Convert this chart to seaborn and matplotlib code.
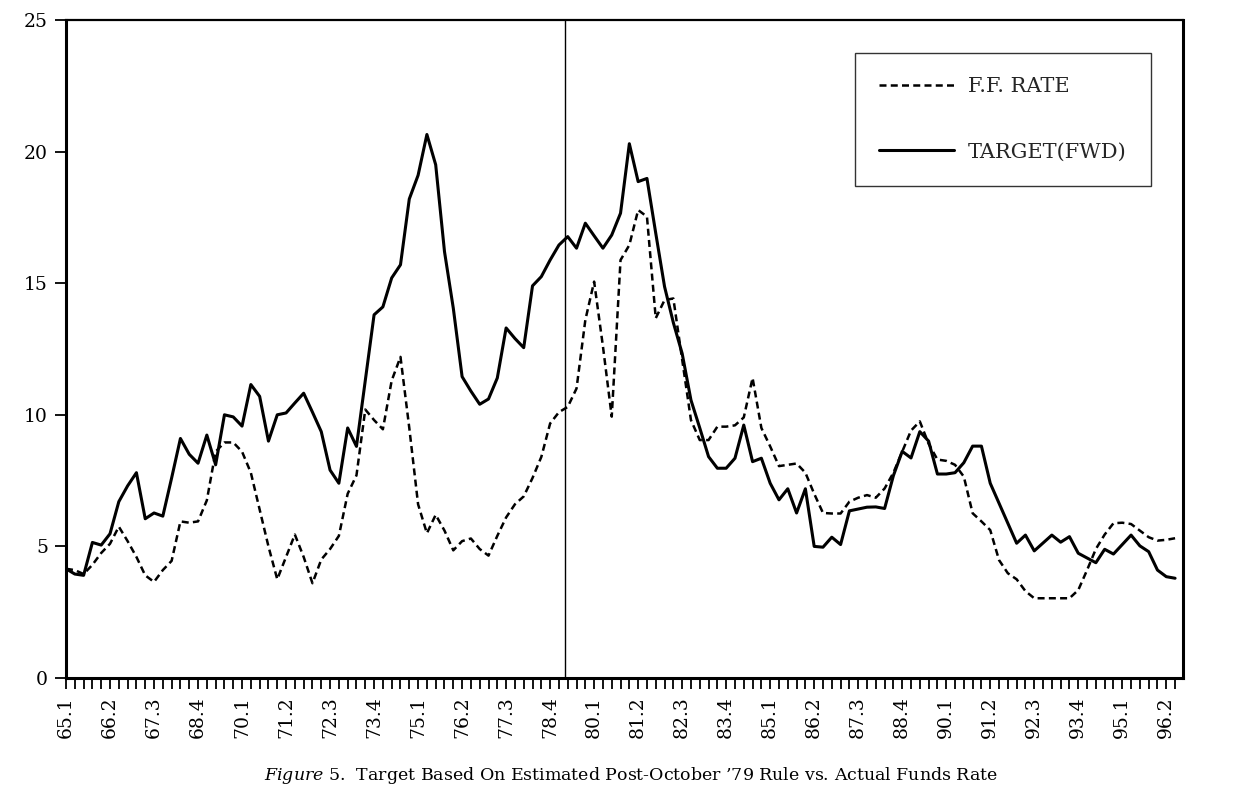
"""Figure 5: target based on estimated post-October '79 rule vs. actual funds rate."""
import matplotlib
matplotlib.use("Agg")
import matplotlib.pyplot as plt
import numpy as np
import pandas as pd
import seaborn as sns
from matplotlib.lines import Line2D

# quarterly observations, 65.1 .. 96.3
FF_RATE = [
    4.15, 4.10, 3.95, 4.30, 4.75, 5.10, 5.75, 5.20, 4.60, 3.90,
    3.65, 4.10, 4.45, 5.95, 5.90, 5.95, 6.75, 8.60, 8.95, 8.95,
    8.60, 7.80, 6.40, 5.00, 3.75, 4.60, 5.45, 4.60, 3.60, 4.50,
    4.90, 5.40, 7.00, 7.70, 10.20, 9.80, 9.45, 11.30, 12.20, 9.50,
    6.60, 5.50, 6.20, 5.60, 4.85, 5.20, 5.30, 4.90, 4.65, 5.40,
    6.10, 6.60, 6.90, 7.60, 8.40, 9.67, 10.10, 10.30, 11.00, 13.60,
    15.06, 12.60, 9.93, 15.88, 16.45, 17.78, 17.53, 13.67, 14.36, 14.42,
    12.10, 9.80, 9.04, 9.04, 9.55, 9.55, 9.60, 9.90, 11.40, 9.50,
    8.80, 8.05, 8.10, 8.15, 7.80, 7.00, 6.27, 6.25, 6.25, 6.70,
    6.85, 6.95, 6.85, 7.20, 7.80, 8.60, 9.40, 9.75, 8.90, 8.30,
    8.25, 8.10, 7.65, 6.26, 5.95, 5.62, 4.48, 3.98, 3.75, 3.30,
    3.03, 3.03, 3.03, 3.03, 3.03, 3.34, 4.10, 4.90, 5.45, 5.88,
    5.90, 5.85, 5.60, 5.35, 5.22, 5.25, 5.31,
]
TARGET_FWD = [
    4.15, 3.95, 3.90, 5.15, 5.05, 5.48, 6.70, 7.30, 7.80, 6.05,
    6.27, 6.15, 7.60, 9.10, 8.50, 8.16, 9.23, 8.10, 10.00, 9.92,
    9.57, 11.15, 10.70, 9.00, 10.00, 10.07, 10.45, 10.82, 10.10, 9.36,
    7.90, 7.40, 9.50, 8.80, 11.30, 13.80, 14.10, 15.20, 15.70, 18.20,
    19.10, 20.65, 19.50, 16.20, 14.05, 11.45, 10.90, 10.40, 10.60, 11.40,
    13.30, 12.90, 12.55, 14.90, 15.25, 15.88, 16.45, 16.77, 16.33, 17.28,
    16.80, 16.33, 16.83, 17.66, 20.30, 18.86, 18.98, 16.90, 14.87, 13.50,
    12.33, 10.56, 9.50, 8.41, 7.97, 7.97, 8.35, 9.61, 8.22, 8.35,
    7.40, 6.77, 7.19, 6.27, 7.19, 5.00, 4.97, 5.35, 5.07, 6.35,
    6.42, 6.49, 6.50, 6.44, 7.69, 8.61, 8.36, 9.36, 9.00, 7.75,
    7.75, 7.80, 8.18, 8.81, 8.81, 7.40, 6.64, 5.88, 5.12, 5.43,
    4.83, 5.13, 5.43, 5.16, 5.37, 4.74, 4.56, 4.38, 4.89, 4.71,
    5.07, 5.43, 5.02, 4.80, 4.10, 3.85, 3.79,
]
TICK_LABELS = [
    "65.1", "66.2", "67.3", "68.4", "70.1", "71.2", "72.3", "73.4", "75.1",
    "76.2", "77.3", "78.4", "80.1", "81.2", "82.3", "83.4", "85.1", "86.2",
    "87.3", "88.4", "90.1", "91.2", "92.3", "93.4", "95.1", "96.2",
]
OCT79 = 56.7  # rule break marker, between 79.1 and 79.2 on the quarter axis

CAPTION = r"$\it{Figure}$ 5.  Target Based On Estimated Post-October ’79 Rule vs. Actual Funds Rate"


def main():
    sns.set_theme(style="white")
    plt.rcParams["font.family"] = ["DejaVu Serif"]
    plt.rcParams["mathtext.fontset"] = "dejavuserif"

    df = pd.DataFrame({
        "q": np.arange(len(FF_RATE)),
        "ff": FF_RATE,
        "target": TARGET_FWD,
    })

    fig = plt.figure(figsize=(12.41, 7.97), dpi=100)
    ax = fig.add_axes([66 / 1241, 1 - 678 / 797, (1183 - 66) / 1241, (678 - 20) / 797])

    sns.lineplot(data=df, x="q", y="ff", ax=ax, color="black", linewidth=1.8)
    sns.lineplot(data=df, x="q", y="target", ax=ax, color="black", linewidth=2.2)
    ax.lines[0].set_dashes((2.8, 1.7))
    ax.axvline(OCT79, color="black", linewidth=1.0)

    ax.set_xlim(0, 126.9)
    ax.set_ylim(0, 25)
    ax.set_xlabel("")
    ax.set_ylabel("")

    major = np.arange(0, 5 * len(TICK_LABELS), 5)
    ax.set_xticks(major)
    ax.set_xticklabels(TICK_LABELS, rotation=90, fontsize=13.5)
    ax.set_xticks(np.arange(0, 127), minor=True)
    ax.set_yticks(np.arange(0, 26, 5))
    ax.set_yticklabels([str(v) for v in range(0, 26, 5)], fontsize=13.5)
    ax.tick_params(axis="x", which="both", direction="out", length=8, width=1.3,
                   pad=5, bottom=True, colors="black")
    ax.tick_params(axis="y", direction="out", length=8, width=1.3, pad=5,
                   left=True, colors="black")

    for side, lw in [("left", 2.2), ("bottom", 2.2), ("right", 2.2), ("top", 1.6)]:
        ax.spines[side].set_visible(True)
        ax.spines[side].set_color("black")
        ax.spines[side].set_linewidth(lw)

    handles = [
        Line2D([], [], color="black", linewidth=1.8, dashes=(2.8, 1.7)),
        Line2D([], [], color="black", linewidth=2.2),
    ]
    leg = ax.legend(handles, ["F.F. RATE", "TARGET(FWD)"], loc="upper left",
                    bbox_to_anchor=(0.706, 0.95), borderaxespad=0, fontsize=15,
                    frameon=True, fancybox=False, edgecolor="black",
                    borderpad=1.15, labelspacing=2.25, handlelength=3.6,
                    handletextpad=0.7)
    leg.get_frame().set_linewidth(1.0)

    fig.text(631 / 1241, 1 - 775 / 797, CAPTION, ha="center", va="center",
             fontsize=12.5, color="black")

    fig.savefig("out.png", dpi=100)
    plt.close(fig)


if __name__ == "__main__":
    main()
